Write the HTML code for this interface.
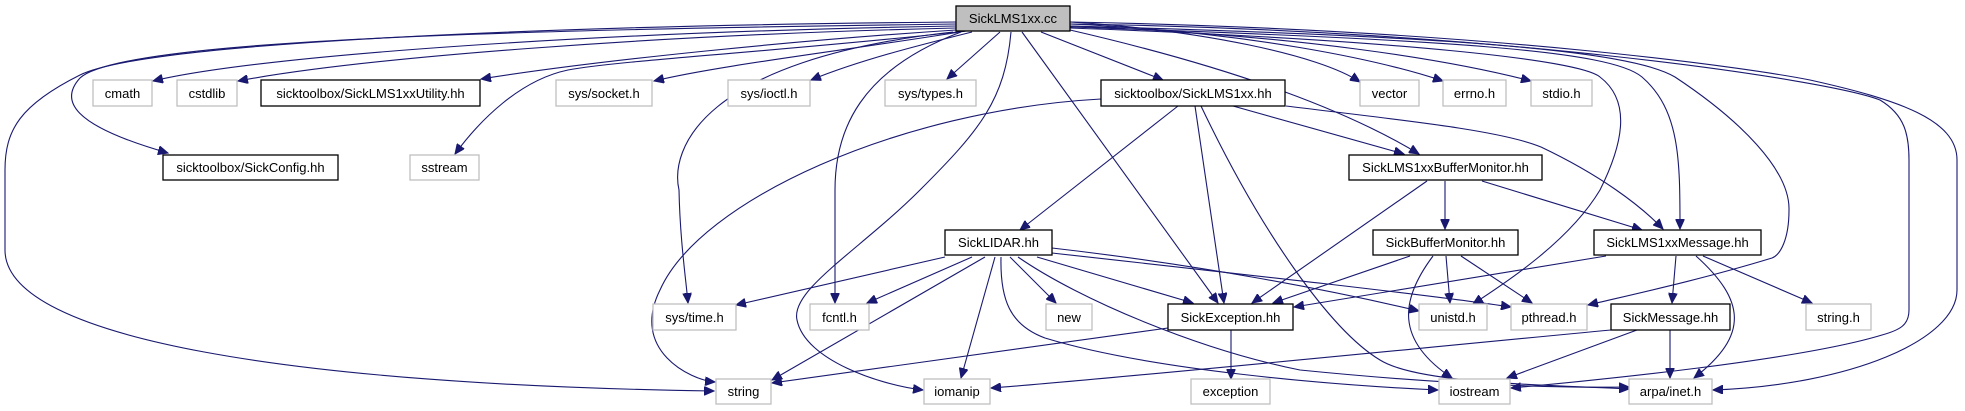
<!DOCTYPE html>
<html><head><meta charset="utf-8"><style>
html,body{margin:0;padding:0;background:#fff;}
svg{display:block;}
text{font-family:"Liberation Sans",Arial,sans-serif;font-size:13px;fill:#000;text-anchor:middle;}
.e{fill:none;stroke:#191970;stroke-width:1.1;marker-end:url(#a);}
.b{fill:#fff;stroke:#000;stroke-width:1.3;}
.g{fill:#fff;stroke:#bfbfbf;stroke-width:1.3;}
</style></head><body>
<svg width="1965" height="411" viewBox="0 0 1965 411" xmlns="http://www.w3.org/2000/svg">
<defs><marker id="a" markerWidth="11" markerHeight="9" refX="10" refY="4.5" orient="auto" markerUnits="userSpaceOnUse"><path d="M0,0 L10,4.5 L0,9 z" fill="#191970" stroke="#191970"/></marker></defs>

<!-- edges from root -->
<path class="e" d="M956,22 C600,25 150,40 80,75 C20,105 5,130 5,170 L5,250 C5,340 300,385 714,391"/>
<path class="e" d="M956,24 C500,30 120,40 80,78 C60,100 70,125 168,153"/>
<path class="e" d="M956,26 C600,32 260,55 153,81"/>
<path class="e" d="M956,28 C650,35 360,58 238,81"/>
<path class="e" d="M956,30 C800,40 600,60 481,79"/>
<path class="e" d="M966,31 C800,50 620,60 568,70 C520,80 480,120 455,154"/>
<path class="e" d="M966,31 C850,50 720,65 654,81"/>
<path class="e" d="M972,32 C920,45 860,60 811,80"/>
<path class="e" d="M1000,32 L947,79"/>
<path class="e" d="M1041,32 L1163,80"/>
<path class="e" d="M953,32 C700,60 670,150 679,190 C680,240 686,280 688,303"/>
<path class="e" d="M961,32 C860,70 835,130 835,190 L835,303"/>
<path class="e" d="M1011,32 C1005,100 980,130 920,190 C860,250 790,290 797,320 C805,360 880,385 923,390"/>
<path class="e" d="M1022,32 L1218,303"/>
<path class="e" d="M1070,22 C1200,30 1320,55 1360,82"/>
<path class="e" d="M1070,24 C1250,32 1380,60 1443,81"/>
<path class="e" d="M1070,26 C1300,35 1450,60 1531,81"/>
<path class="e" d="M1070,30 C1200,60 1330,100 1419,154"/>
<path class="e" d="M1070,28 C1400,40 1580,60 1600,77 C1630,100 1625,140 1600,190 C1570,240 1510,280 1473,304"/>
<path class="e" d="M1070,27 C1450,40 1610,50 1642,77 C1680,110 1680,160 1680,229"/>
<path class="e" d="M1070,26 C1450,36 1630,50 1675,77 C1740,120 1790,170 1789,210 C1789,240 1780,255 1772,258 C1700,280 1630,295 1588,305"/>
<path class="e" d="M1070,24 C1500,30 1830,80 1880,100 C1905,115 1909,135 1909,160 L1909,310 C1909,325 1900,330 1882,335 C1800,360 1600,380 1511,388"/>
<path class="e" d="M1070,22 C1500,30 1760,70 1810,80 C1900,100 1957,120 1957,160 L1957,290 C1957,340 1850,385 1713,390"/>

<!-- SickLMS1xx.hh -->
<path class="e" d="M1101,99 C900,110 700,200 660,290 C630,350 690,380 715,382"/>
<path class="e" d="M1178,106 L1020,230"/>
<path class="e" d="M1195,106 L1224,303"/>
<path class="e" d="M1201,106 C1260,230 1330,330 1380,360 C1420,385 1560,385 1629,389"/>
<path class="e" d="M1233,106 L1404,154"/>
<path class="e" d="M1286,106 C1400,120 1500,130 1541,147 C1600,175 1640,205 1663,229"/>

<!-- SickLIDAR -->
<path class="e" d="M945,257 L736,305"/>
<path class="e" d="M972,257 L867,303"/>
<path class="e" d="M985,257 L772,380"/>
<path class="e" d="M995,257 L961,378"/>
<path class="e" d="M1010,257 L1056,303"/>
<path class="e" d="M1037,257 L1193,303"/>
<path class="e" d="M1052,248 C1200,265 1330,290 1419,311"/>
<path class="e" d="M1052,253 C1250,275 1430,295 1511,307"/>
<path class="e" d="M1001,257 C1000,300 1010,325 1045,338 C1150,370 1330,385 1438,390"/>
<path class="e" d="M1018,257 C1080,300 1200,350 1300,370 C1450,385 1560,388 1629,387"/>

<!-- SickException -->
<path class="e" d="M1168,328 L772,383"/>
<path class="e" d="M1231,330 L1231,379"/>

<!-- BufferMonitor -->
<path class="e" d="M1445,181 L1445,229"/>
<path class="e" d="M1482,181 L1642,230"/>
<path class="e" d="M1427,181 L1252,303"/>

<!-- SickBufferMonitor -->
<path class="e" d="M1410,256 L1273,303"/>
<path class="e" d="M1446,256 L1450,303"/>
<path class="e" d="M1461,256 L1532,303"/>
<path class="e" d="M1433,256 C1400,300 1395,340 1452,378"/>

<!-- SickLMS1xxMessage -->
<path class="e" d="M1606,256 L1294,307"/>
<path class="e" d="M1676,256 L1672,303"/>
<path class="e" d="M1703,256 L1812,303"/>
<path class="e" d="M1696,256 C1745,300 1750,335 1694,378"/>

<!-- SickMessage -->
<path class="e" d="M1611,330 C1400,350 1100,380 991,388"/>
<path class="e" d="M1637,330 L1507,378"/>
<path class="e" d="M1670,330 L1670,378"/>

<!-- nodes -->
<rect x="956" y="6" width="114" height="25" fill="#bfbfbf" stroke="#000" stroke-width="1.3"/><text x="1013" y="23">SickLMS1xx.cc</text>

<rect class="g" x="93" y="80" width="59" height="26"/><text x="122.5" y="98">cmath</text>
<rect class="g" x="177" y="80" width="60" height="26"/><text x="207" y="98">cstdlib</text>
<rect class="b" x="261" y="80" width="219" height="26"/><text x="370.5" y="98">sicktoolbox/SickLMS1xxUtility.hh</text>
<rect class="g" x="556" y="80" width="96" height="26"/><text x="604" y="98">sys/socket.h</text>
<rect class="g" x="728" y="80" width="82" height="26"/><text x="769" y="98">sys/ioctl.h</text>
<rect class="g" x="885" y="80" width="91" height="26"/><text x="930.5" y="98">sys/types.h</text>
<rect class="b" x="1101" y="80" width="184" height="26"/><text x="1193" y="98">sicktoolbox/SickLMS1xx.hh</text>
<rect class="g" x="1360" y="80" width="59" height="26"/><text x="1389.5" y="98">vector</text>
<rect class="g" x="1443" y="80" width="63" height="26"/><text x="1474.5" y="98">errno.h</text>
<rect class="g" x="1531" y="80" width="61" height="26"/><text x="1561.5" y="98">stdio.h</text>

<rect class="b" x="163" y="155" width="175" height="25"/><text x="250.5" y="172">sicktoolbox/SickConfig.hh</text>
<rect class="g" x="410" y="155" width="69" height="25"/><text x="444.5" y="172">sstream</text>
<rect class="b" x="1349" y="155" width="193" height="25"/><text x="1445.5" y="172">SickLMS1xxBufferMonitor.hh</text>

<rect class="b" x="945" y="230" width="107" height="25"/><text x="998.5" y="247">SickLIDAR.hh</text>
<rect class="b" x="1373" y="230" width="145" height="25"/><text x="1445.5" y="247">SickBufferMonitor.hh</text>
<rect class="b" x="1594" y="230" width="167" height="25"/><text x="1677.5" y="247">SickLMS1xxMessage.hh</text>

<rect class="g" x="653" y="304" width="83" height="26"/><text x="694.5" y="322">sys/time.h</text>
<rect class="g" x="810" y="304" width="59" height="26"/><text x="839.5" y="322">fcntl.h</text>
<rect class="g" x="1046" y="304" width="46" height="26"/><text x="1069" y="322">new</text>
<rect class="b" x="1168" y="304" width="125" height="26"/><text x="1230.5" y="322">SickException.hh</text>
<rect class="g" x="1419" y="304" width="68" height="26"/><text x="1453" y="322">unistd.h</text>
<rect class="g" x="1511" y="304" width="76" height="26"/><text x="1549" y="322">pthread.h</text>
<rect class="b" x="1611" y="304" width="119" height="26"/><text x="1670.5" y="322">SickMessage.hh</text>
<rect class="g" x="1806" y="304" width="65" height="26"/><text x="1838.5" y="322">string.h</text>

<rect class="g" x="716" y="379" width="55" height="25"/><text x="743.5" y="396">string</text>
<rect class="g" x="924" y="379" width="66" height="25"/><text x="957" y="396">iomanip</text>
<rect class="g" x="1191" y="379" width="79" height="25"/><text x="1230.5" y="396">exception</text>
<rect class="g" x="1439" y="379" width="71" height="25"/><text x="1474.5" y="396">iostream</text>
<rect class="g" x="1629" y="379" width="83" height="25"/><text x="1670.5" y="396">arpa/inet.h</text>
</svg>
</body></html>
